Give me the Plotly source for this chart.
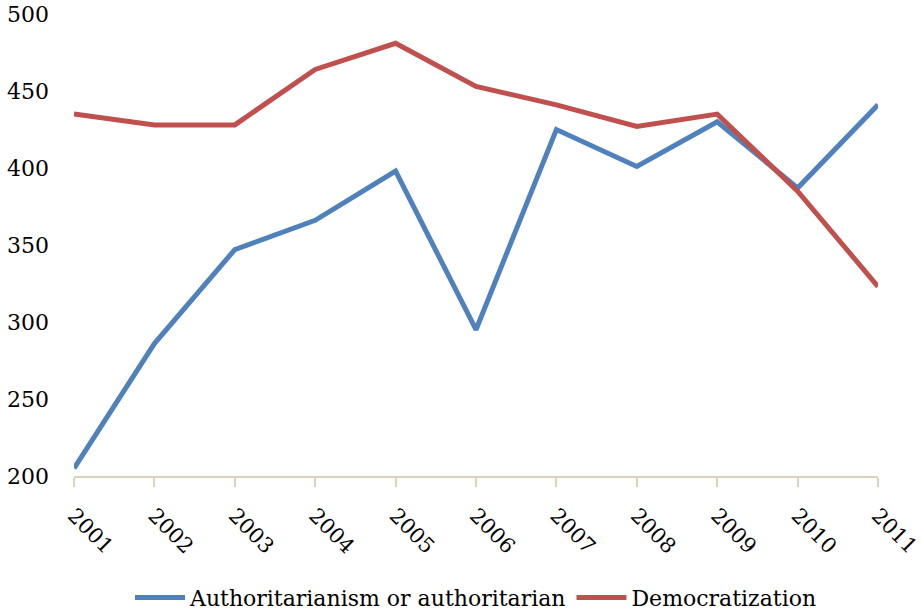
import plotly.graph_objects as go

years = ["2001", "2002", "2003", "2004", "2005", "2006", "2007", "2008", "2009", "2010", "2011"]
authoritarian = [205, 286, 347, 366, 398, 295, 425, 401, 430, 387, 441]
democratization = [435, 428, 428, 464, 481, 453, 441, 427, 435, 385, 323]
y_ticks = [200, 250, 300, 350, 400, 450, 500]

FONT = "DejaVu Serif"
fig = go.Figure()
fig.add_trace(go.Scatter(x=years, y=authoritarian, mode="lines",
                         name="Authoritarianism or authoritarian",
                         line=dict(color="#4F81BD", width=5)))
fig.add_trace(go.Scatter(x=years, y=democratization, mode="lines",
                         name="Democratization",
                         line=dict(color="#C0504D", width=5)))

fig.update_layout(
    width=922, height=613,
    margin=dict(l=74, r=44, t=14, b=137, autoexpand=False),
    paper_bgcolor="white", plot_bgcolor="white",
    font=dict(family=FONT, size=22, color="black"),
    showlegend=True,
    legend=dict(orientation="h", x=0.5, xanchor="center", yref="container",
                y=0.025, yanchor="middle",
                font=dict(family=FONT, size=22), itemwidth=50, tracegroupgap=0),
    xaxis=dict(type="category", range=[0, 10], showgrid=False, showline=True,
               linecolor="#D9D3BD", linewidth=2, ticks="outside", tickcolor="#D9D3BD",
               ticklen=9, tickwidth=2, tickangle=45, zeroline=False, automargin=False,
               ticklabelstandoff=8,
               tickfont=dict(family=FONT, size=21)),
    yaxis=dict(range=[200, 500], tickvals=y_ticks, showgrid=False, showline=False,
               zeroline=False, ticks="", ticklabelstandoff=24, automargin=False,
               tickfont=dict(family=FONT, size=22)),
)
fig.write_html("out.html")
